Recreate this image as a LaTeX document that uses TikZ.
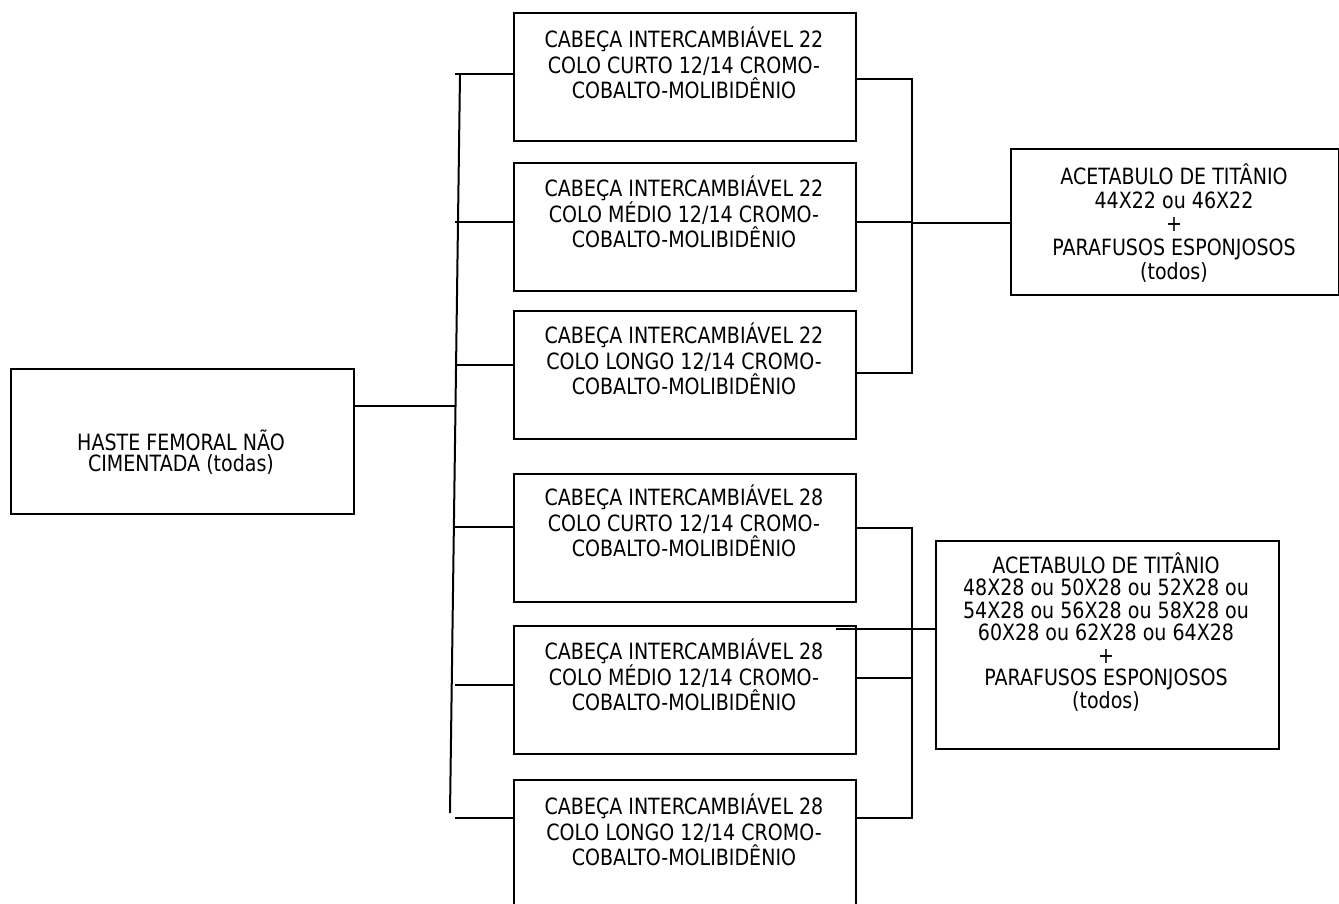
\documentclass[tikz,border=0pt]{standalone}
\usepackage{fontspec}
\setmainfont{DejaVu Sans}[FakeStretch=0.85]
\begin{document}
\begin{tikzpicture}[x=0.5pt,y=-0.5pt,line width=1pt,
  box/.style={draw,line width=1pt,inner sep=0pt,anchor=north west},
  cbox/.style={box,minimum width=171pt,minimum height=64pt},
  txt/.style={align=center,inner sep=0pt,font=\fontsize{11.2pt}{12.75pt}\selectfont},
  conn/.style={line width=1pt}]
\useasboundingbox (0,0) rectangle (1339,904);
\fill[white] (0,0) rectangle (1339,904);

% left box
\node[box,minimum width=171.5pt,minimum height=72.5pt] (L) at (10,368) {};
\node[txt,font=\fontsize{11.2pt}{10.6pt}\selectfont] (tL) at (181,452) {HASTE FEMORAL NÃO\\CIMENTADA (todas)};

% middle boxes
\node[cbox] (b1) at (513,12) {};
\node[cbox] (b2) at (513,162) {};
\node[cbox] (b3) at (513,310) {};
\node[cbox] (b4) at (513,473) {};
\node[cbox] (b5) at (513,625) {};
\node[cbox] (b6) at (513,779) {};

\node[txt] (t1) at (684,63) {CABEÇA INTERCAMBIÁVEL 22\\COLO CURTO 12/14 CROMO-\\COBALTO-MOLIBIDÊNIO};
\node[txt] (t2) at (684,212) {CABEÇA INTERCAMBIÁVEL 22\\COLO MÉDIO 12/14 CROMO-\\COBALTO-MOLIBIDÊNIO};
\node[txt] (t3) at (684,359) {CABEÇA INTERCAMBIÁVEL 22\\COLO LONGO 12/14 CROMO-\\COBALTO-MOLIBIDÊNIO};
\node[txt] (t4) at (684,521) {CABEÇA INTERCAMBIÁVEL 28\\COLO CURTO 12/14 CROMO-\\COBALTO-MOLIBIDÊNIO};
\node[txt] (t5) at (684,675) {CABEÇA INTERCAMBIÁVEL 28\\COLO MÉDIO 12/14 CROMO-\\COBALTO-MOLIBIDÊNIO};
\node[txt] (t6) at (684,830) {CABEÇA INTERCAMBIÁVEL 28\\COLO LONGO 12/14 CROMO-\\COBALTO-MOLIBIDÊNIO};

% right boxes
\node[box,minimum width=164pt,minimum height=73pt] (A1) at (1010,148) {};
\node[txt,font=\fontsize{11.2pt}{11.9pt}\selectfont] (tA1) at (1174,223) {ACETABULO DE TITÂNIO\\44X22 ou 46X22\\+\\PARAFUSOS ESPONJOSOS\\(todos)};
\node[box,minimum width=171.5pt,minimum height=104pt] (A2) at (935,540) {};
\node[txt,font=\fontsize{11.2pt}{11.25pt}\selectfont] (tA2) at (1106,632) {ACETABULO DE TITÂNIO\\48X28 ou 50X28 ou 52X28 ou\\54X28 ou 56X28 ou 58X28 ou\\60X28 ou 62X28 ou 64X28\\+\\PARAFUSOS ESPONJOSOS\\(todos)};

% left connectors
\coordinate (j0) at (455.7,406);
\draw[conn] (L.east |- j0) -- (j0);
\coordinate (busT) at (460,74);
\coordinate (busB) at (450,813);
\draw[conn] (busT) -- (busB);
\foreach \n/\y in {1/74,2/222,3/365,4/527,5/685,6/818}{
  \coordinate (s\n) at (455,\y);
  \draw[conn] (s\n) -- (s\n -| b\n.west);
}

% right top connectors
\coordinate (r1) at (912,79);
\coordinate (r2) at (912,222);
\coordinate (r3) at (912,373);
\coordinate (r2b) at (912,223);
\draw[conn] (b1.east |- r1) -- (r1) -- (r3) -- (b3.east |- r3);
\draw[conn] (b2.east |- r2) -- (r2);
\draw[conn] (r2b) -- (r2b -| A1.west);

% right bottom connectors
\coordinate (q4) at (912,528);
\coordinate (q5) at (912,678);
\coordinate (q6) at (912,818);
\draw[conn] (b4.east |- q4) -- (q4) -- (q6) -- (b6.east |- q6);
\draw[conn] (b5.east |- q5) -- (q5);
\coordinate (x5) at (836,629);
\draw[conn] (x5) -- (x5 -| A2.west);
\end{tikzpicture}
\end{document}
